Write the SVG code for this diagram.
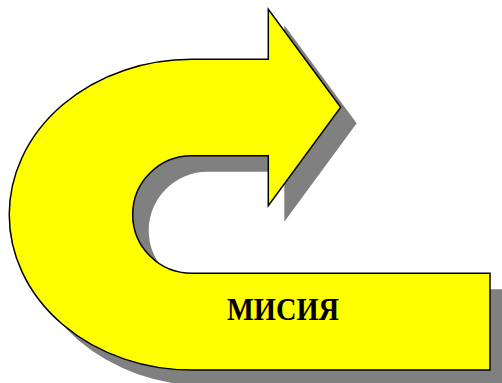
<svg xmlns="http://www.w3.org/2000/svg" width="502" height="383" viewBox="0 0 502 383">
<defs>
<style>
.shadow{fill:#808080;stroke:none}
.body{fill:#FFFF00;stroke:#000;stroke-width:1.5;stroke-linejoin:miter}
.label{font-family:"Liberation Serif","DejaVu Serif",serif;font-weight:bold;font-size:32px;fill:#000}
</style>
<path id="uarrow" d="M 191.7 59.3 L 268.3 59.3 L 268.3 9.3 L 340.7 107.3 L 268.3 205.7 L 268.3 155.7 L 191.7 155.7 A 59 58.8 0 0 0 191.7 273.3 L 490 273.3 L 490 370 L 191.7 370 A 182.4 155.3 0 0 1 191.7 59.3 Z"/>
</defs>
<rect width="502" height="383" fill="#fff"/>
<g id="arrow">
<use href="#uarrow" class="shadow" transform="translate(16,16)"/>
<use href="#uarrow" class="body"/>
<text class="label" x="283" y="320" text-anchor="middle" textLength="112" lengthAdjust="spacingAndGlyphs">МИСИЯ</text>
</g>
</svg>
